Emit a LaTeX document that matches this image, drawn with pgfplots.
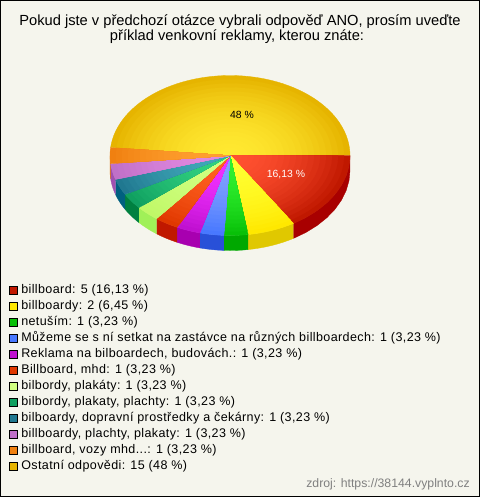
\documentclass[border=0pt]{standalone}
\usepackage{pgfplots}
\pgfplotsset{compat=1.18}
\usepackage{fontspec}
\setmainfont{Liberation Sans}
\newfontfamily\legfont[LetterSpace=3.1]{Liberation Sans}
% slice colours: rim, centre, side
\definecolor{bg}{HTML}{F5F5ED}
\definecolor{aR}{HTML}{C01800}\definecolor{aC}{HTML}{FF5030}\definecolor{aS}{HTML}{A80000}
\definecolor{bR}{HTML}{FFE800}\definecolor{bC}{HTML}{FFFF30}\definecolor{bS}{HTML}{E0C800}
\definecolor{cR}{HTML}{08C008}\definecolor{cC}{HTML}{30F030}\definecolor{cS}{HTML}{00A800}
\definecolor{dR}{HTML}{4878FF}\definecolor{dC}{HTML}{80A0FF}\definecolor{dS}{HTML}{2850D8}
\definecolor{eR}{HTML}{C010D0}\definecolor{eC}{HTML}{F030FF}\definecolor{eS}{HTML}{A800B0}
\definecolor{fR}{HTML}{E03800}\definecolor{fC}{HTML}{FF6020}\definecolor{fS}{HTML}{C01800}
\definecolor{gR}{HTML}{C0F868}\definecolor{gC}{HTML}{D0FF80}\definecolor{gS}{HTML}{A0F058}
\definecolor{hR}{HTML}{10A060}\definecolor{hC}{HTML}{30D080}\definecolor{hS}{HTML}{008040}
\definecolor{iR}{HTML}{207890}\definecolor{iC}{HTML}{40A8B8}\definecolor{iS}{HTML}{006080}
\definecolor{jR}{HTML}{C070C8}\definecolor{jC}{HTML}{E088E0}\definecolor{jS}{HTML}{A050B0}
\definecolor{kR}{HTML}{F08010}\definecolor{kC}{HTML}{FFA030}\definecolor{kS}{HTML}{E07000}
\definecolor{lR}{HTML}{E6B400}\definecolor{lC}{HTML}{FFE830}
\def\cx{230}\def\cy{155.5}\def\ra{120}\def\rb{80}\def\dep{15}
\def\unit{11.6129}% degrees for one answer (360/31)
% #1 first answer count, #2 last answer count (cumulated answers), #3 rim, #4 centre
\newcommand\topslice[4]{%
  \pgfmathsetmacro\angA{#1*\unit}\pgfmathsetmacro\angB{#2*\unit}%
  \pgfmathtruncatemacro\nn{(\angB-\angA)/3+2}%
  \foreach \lev in {20,19,...,1}{%
    \pgfmathsetmacro\sc{\lev/20}%
    \pgfmathsetmacro\mix{100*((\lev-1)/19)^1.8}%
    \xdef\coords{(\cx,\cy)}%
    \foreach \k in {0,...,\nn}{%
      \pgfmathsetmacro\ang{\angA+(\angB-\angA)*\k/\nn}%
      \pgfmathsetmacro\X{\cx+\ra*\sc*cos(\ang)}%
      \pgfmathsetmacro\Y{\cy+\rb*\sc*sin(\ang)}%
      \xdef\coords{\coords (\X,\Y)}%
    }%
    \edef\temp{\noexpand\addplot[forget plot,mark=none,line width=.25pt,draw=#3!\mix!#4,fill=#3!\mix!#4] coordinates {\coords};}\temp
  }%
}
\newcommand\sideslice[3]{%
  \pgfmathsetmacro\angA{#1*\unit}\pgfmathsetmacro\angB{min(180,#2*\unit)}%
  \def\nn{8}%
  \xdef\coords{}%
  \foreach \k in {0,...,\nn}{%
    \pgfmathsetmacro\ang{\angA+(\angB-\angA)*\k/\nn}%
    \pgfmathsetmacro\X{\cx+\ra*cos(\ang)}%
    \pgfmathsetmacro\Y{\cy+\rb*sin(\ang)}%
    \xdef\coords{\coords (\X,\Y)}%
  }%
  \foreach \k in {\nn,...,0}{%
    \pgfmathsetmacro\ang{\angA+(\angB-\angA)*\k/\nn}%
    \pgfmathsetmacro\X{\cx+\ra*cos(\ang)}%
    \pgfmathsetmacro\Y{\cy+\dep+\rb*sin(\ang)}%
    \xdef\coords{\coords (\X,\Y)}%
  }%
  \edef\temp{\noexpand\addplot[forget plot,mark=none,line width=.25pt,draw=#3,fill=#3] coordinates {\coords};}\temp
}
\newcommand\leg[3]{%
  \addplot[forget plot,only marks,mark=square*,mark size=3pt,mark options={solid,fill=#2,draw=black,line width=.5pt}] coordinates {(13.5,#1)};
  \node[anchor=west,inner sep=0pt,font=\legfont\fontsize{9.4}{11}\selectfont] at (axis cs:21,#1) {#3};
}
\begin{document}
\begin{tikzpicture}
\begin{axis}[
  scale only axis,width=360pt,height=372.75pt,
  xmin=0,xmax=480,ymin=0,ymax=497,y dir=reverse,
  hide axis,clip=false]
\addplot[forget plot,mark=none,draw=black,line width=.75pt,fill=bg] coordinates {(.5,.5) (479.5,.5) (479.5,496.5) (.5,496.5) (.5,.5)};
% cumulated answers: 5,7,8,9,10,11,12,13,14,15,16,31
\sideslice{0}{5}{aS}
\sideslice{5}{7}{bS}
\sideslice{7}{8}{cS}
\sideslice{8}{9}{dS}
\sideslice{9}{10}{eS}
\sideslice{10}{11}{fS}
\sideslice{11}{12}{gS}
\sideslice{12}{13}{hS}
\sideslice{13}{14}{iS}
\sideslice{14}{15}{jS}
\sideslice{15}{15.5}{kS}
\topslice{16}{31}{lR}{lC}
\topslice{0}{5}{aR}{aC}
\topslice{5}{7}{bR}{bC}
\topslice{7}{8}{cR}{cC}
\topslice{8}{9}{dR}{dC}
\topslice{9}{10}{eR}{eC}
\topslice{10}{11}{fR}{fC}
\topslice{11}{12}{gR}{gC}
\topslice{12}{13}{hR}{hC}
\topslice{13}{14}{iR}{iC}
\topslice{14}{15}{jR}{jC}
\topslice{15}{16}{kR}{kC}
\node[anchor=base,font=\fontsize{11}{13}\selectfont,inner sep=0pt,text=black] at (axis cs:240,25) {Pokud jste v předchozí otázce vybrali odpověď ANO, prosím uveďte};
\node[anchor=base,font=\fontsize{11}{13}\selectfont,inner sep=0pt,text=black] at (axis cs:237,40) {příklad venkovní reklamy, kterou znáte:};
\node[font=\fontsize{7.8}{9}\selectfont,inner sep=0pt] at (axis cs:242,115) {48 \%};
\node[font=\fontsize{7.8}{9}\selectfont,inner sep=0pt,text=white] at (axis cs:286,175) {16,13 \%};
\leg{290}{aR}{billboard: 5 (16,13 \%)}
\leg{306}{bR}{billboardy: 2 (6,45 \%)}
\leg{322}{cR}{netuším: 1 (3,23 \%)}
\leg{338}{dR}{Můžeme se s ní setkat na zastávce na různých billboardech: 1 (3,23 \%)}
\leg{354}{eR}{Reklama na bilboardech, budovách.: 1 (3,23 \%)}
\leg{370}{fR}{Billboard, mhd: 1 (3,23 \%)}
\leg{386}{gC}{bilbordy, plakáty: 1 (3,23 \%)}
\leg{402}{hR}{bilbordy, plakaty, plachty: 1 (3,23 \%)}
\leg{418}{iR}{bilboardy, dopravní prostředky a čekárny: 1 (3,23 \%)}
\leg{434}{jR}{billboardy, plachty, plakaty: 1 (3,23 \%)}
\leg{450}{kR}{billboard, vozy mhd...: 1 (3,23 \%)}
\leg{466}{lR}{Ostatní odpovědi: 15 (48 \%)}
\node[anchor=east,inner sep=0pt,font=\fontsize{9.2}{11}\selectfont,text=black!50] at (axis cs:470,484) {zdroj: https://38144.vyplnto.cz};
\end{axis}
\end{tikzpicture}
\end{document}
